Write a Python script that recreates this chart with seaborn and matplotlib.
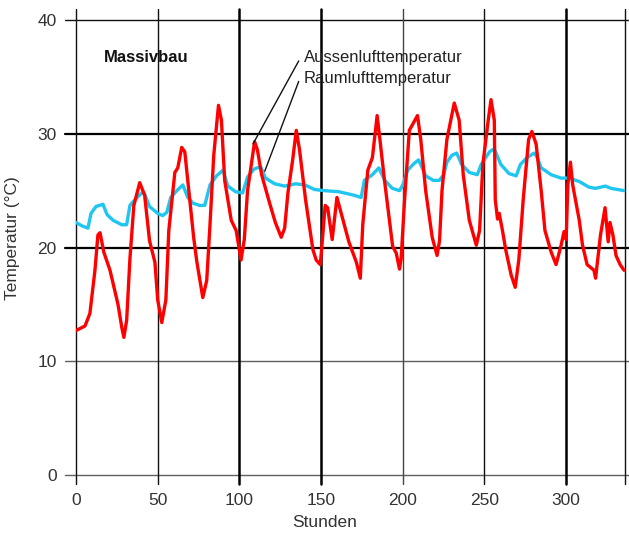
import matplotlib
matplotlib.use("Agg")
import matplotlib.pyplot as plt
import seaborn as sns
import pandas as pd

# ---------------- data ----------------
out_x = [0, 5.5, 8.5, 11.6, 13.4, 14.7, 17, 20.8, 25.7, 28, 29.3, 31, 33, 35.4, 39, 42, 45, 48.3,
         50, 52.5, 55, 56.8, 60.5, 62.3, 64.7, 66.6, 69.6, 72, 74, 77.6, 80, 82, 84.3, 87.2, 89,
         91, 95, 98, 101, 103, 105, 109.3, 111, 113.6, 118.5, 122, 125.6, 127.7, 129.7, 132.6,
         134.8, 136.8, 140.5, 145, 147, 149.5, 150.3, 152.5, 154, 156.8, 159.7, 167, 171.6, 174,
         175.5, 178.6, 181.4, 184.3, 186, 188.8, 193.8, 196, 198, 199, 201, 204, 209, 211, 214,
         218, 221, 222.5, 224, 227, 231.5, 234.5, 237, 240.7, 245, 247, 249, 252.3, 254, 256,
         256.6, 258, 259, 261, 263, 266.3, 268.8, 271, 273.7, 277, 279, 281.6, 284.7, 287, 290.8,
         293.8, 296.9, 298.7, 300, 301, 302.6, 304, 308, 310, 312.8, 317, 318, 321, 323.8, 325.7,
         326.8, 328.6, 330.5, 333, 335.4]
out_y = [12.7, 13.1, 14.2, 18, 21.1, 21.3, 19.6, 18, 15, 13, 12.1, 13.6, 19, 23.7, 25.7, 24.6, 20.6, 18.7,
         15.4, 13.4, 15.4, 21.5, 26.6, 27, 28.8, 28.4, 24.2, 20.9, 18.7, 15.6, 17.1, 22, 28.1, 32.5, 31.2,
         25.9, 22.4, 21.5, 18.9, 20.7, 25, 29.3, 28.6, 26.4, 23.9, 22.2, 20.9, 21.7, 24.8, 27.7,
         30.3, 28.6, 24.2, 19.8, 18.9, 18.5, 19.8, 23.7, 23.5, 20.7, 24.4, 20.5, 18.7, 17.3,
         22, 26.8, 27.9, 31.6, 29.5, 25.9, 20.1, 19.5, 18.1, 19, 24, 30.3, 31.6, 29.5, 25,
         20.9, 19.3, 20.6, 25, 29.5, 32.7, 31.2, 26.4, 22.4, 20.2, 21.5, 27.3, 31.2, 33, 31.2,
         24.2, 22.5, 23, 21.5, 19.8, 17.6, 16.5, 18.9, 24.2, 29.5, 30.2, 29.1, 25, 21.5, 19.6,
         18.5, 20.2, 21.4, 20.7, 25.5, 27.5, 25.5, 22.4, 20.2, 18.5, 18, 17.3, 21.1, 23.5, 20.5,
         22.2, 21.1, 19.3, 18.5, 18]

room_x = [0, 3.7, 7.3, 9.2, 12.2, 16.5, 19, 22.6, 28, 31, 33, 36.7, 40.3, 42, 45, 50, 53, 55.6, 58,
          61.7, 65.4, 68.4, 71.5, 75.7, 78.8, 82, 86, 90, 92.9, 97.7, 102, 105, 109, 113, 116, 121.6,
          127.7, 134.4, 140, 146, 152, 161, 170, 174.5, 176.5, 181.4, 185.3, 189, 193.6, 198, 200,
          203, 207, 209.7, 214, 218.7, 222.4, 225, 227, 230, 233, 236, 240.7, 245.6, 248, 253, 255,
          256.5, 260, 265, 269.4, 272, 276, 280.4, 282, 284.7, 290.8, 296.9, 301.8, 308, 314, 318,
          321, 324, 327.4, 335.4]
room_y = [22.2, 21.9, 21.7, 23, 23.6, 23.8, 22.9, 22.4, 22, 22, 23.7, 24.3, 24.8, 24.7, 23.6, 23, 22.8, 23.1, 24.4,
          25, 25.5, 24.4, 23.9, 23.7, 23.7, 25.5, 26.3, 26.8, 25.4, 24.9, 24.8, 26.2, 26.9, 27.1, 26.1, 25.6,
          25.4, 25.6, 25.5, 25.1, 25, 24.9, 24.6, 24.4, 25.9, 26.4, 27, 25.9, 25.2, 25, 25.5,
          26.8, 27.4, 27.7, 26.3, 25.9, 25.9, 26.4, 27.5, 28.1, 28.3, 27.3, 26.6, 26.4, 27.3, 28.4, 28.6,
          28.5, 27.3, 26.5, 26.3, 27.3, 27.9, 28.3, 28, 27, 26.4, 26.1, 26.1, 25.8, 25.3, 25.2,
          25.3, 25.4, 25.2, 25]

x_ticks = [0, 50, 100, 150, 200, 250, 300]
y_ticks = [0, 10, 20, 30, 40]
x_thick = [100, 150, 300]
y_thick = [20, 30]
y_gray = [0, 10]
x_max = 336

df_out = pd.DataFrame({"Stunden": out_x, "T": out_y})
df_room = pd.DataFrame({"Stunden": room_x, "T": room_y})

# ---------------- figure ----------------
sns.set_theme(style="white")
plt.rcParams["font.family"] = ["Liberation Sans", "DejaVu Sans"]

fig = plt.figure(figsize=(6.29, 5.33), dpi=100)
ax = fig.add_axes([76 / 629, 1 - 475 / 533, 549 / 629, 455 / 533])
ax.set_xlim(0, x_max)
ax.set_ylim(0, 40)
for s in ax.spines.values():
    s.set_visible(False)

# grid lines extending past the frame (like the original)
ext_left = 11 / 549
ext_right = 4 / 549
ext_bot = 9 / 455
ext_top = 11 / 455
for y in y_ticks:
    if y in y_thick:
        lw, c = 1.6, "#000000"
    elif y in y_gray:
        lw, c = 1.0, "#606060"
    else:
        lw, c = 1.0, "#111111"
    ax.axhline(y, xmin=-ext_left, xmax=1 + ext_right, color=c, lw=lw, clip_on=False, zorder=1)
for x in x_ticks + [x_max]:
    if x in x_thick:
        lw, c = 1.8, "#000000"
    elif x == 200:
        lw, c = 1.0, "#444444"
    else:
        lw, c = 1.0, "#111111"
    ax.axvline(x, ymin=-ext_bot, ymax=1 + ext_top, color=c, lw=lw, clip_on=False, zorder=1)

sns.lineplot(data=df_out, x="Stunden", y="T", ax=ax, color="#ff0000", lw=2.4, zorder=3)
sns.lineplot(data=df_room, x="Stunden", y="T", ax=ax, color="#1ec6f0", lw=2.4, zorder=2)

ax.set_xticks(x_ticks)
ax.set_yticks(y_ticks)
ax.tick_params(axis="both", length=0, labelsize=12.5, labelcolor="#333333")
ax.tick_params(axis="y", pad=14)
ax.tick_params(axis="x", pad=13)
ax.set_xlabel("Stunden", fontsize=12.5, color="#333333", labelpad=7)
ax.xaxis.set_label_coords(0.452, -0.088)
ax.set_ylabel("Temperatur (°C)", fontsize=12.5, color="#333333")
ax.yaxis.set_label_coords(-0.102, 0.52)

ax.text(17, 36.7, "Massivbau", fontsize=12, fontweight="bold", color="#111111",
        va="center", ha="left")
ax.text(139.5, 36.7, "Aussenlufttemperatur", fontsize=12, color="#222222", va="center", ha="left")
ax.text(139.5, 34.9, "Raumlufttemperatur", fontsize=12, color="#222222", va="center", ha="left")
ax.plot([136.3, 108.3], [36.4, 29.1], color="#111111", lw=1.0, zorder=4)
ax.plot([136.3, 115.5], [34.6, 26.7], color="#111111", lw=1.0, zorder=4)

fig.savefig("out.png", dpi=100)
